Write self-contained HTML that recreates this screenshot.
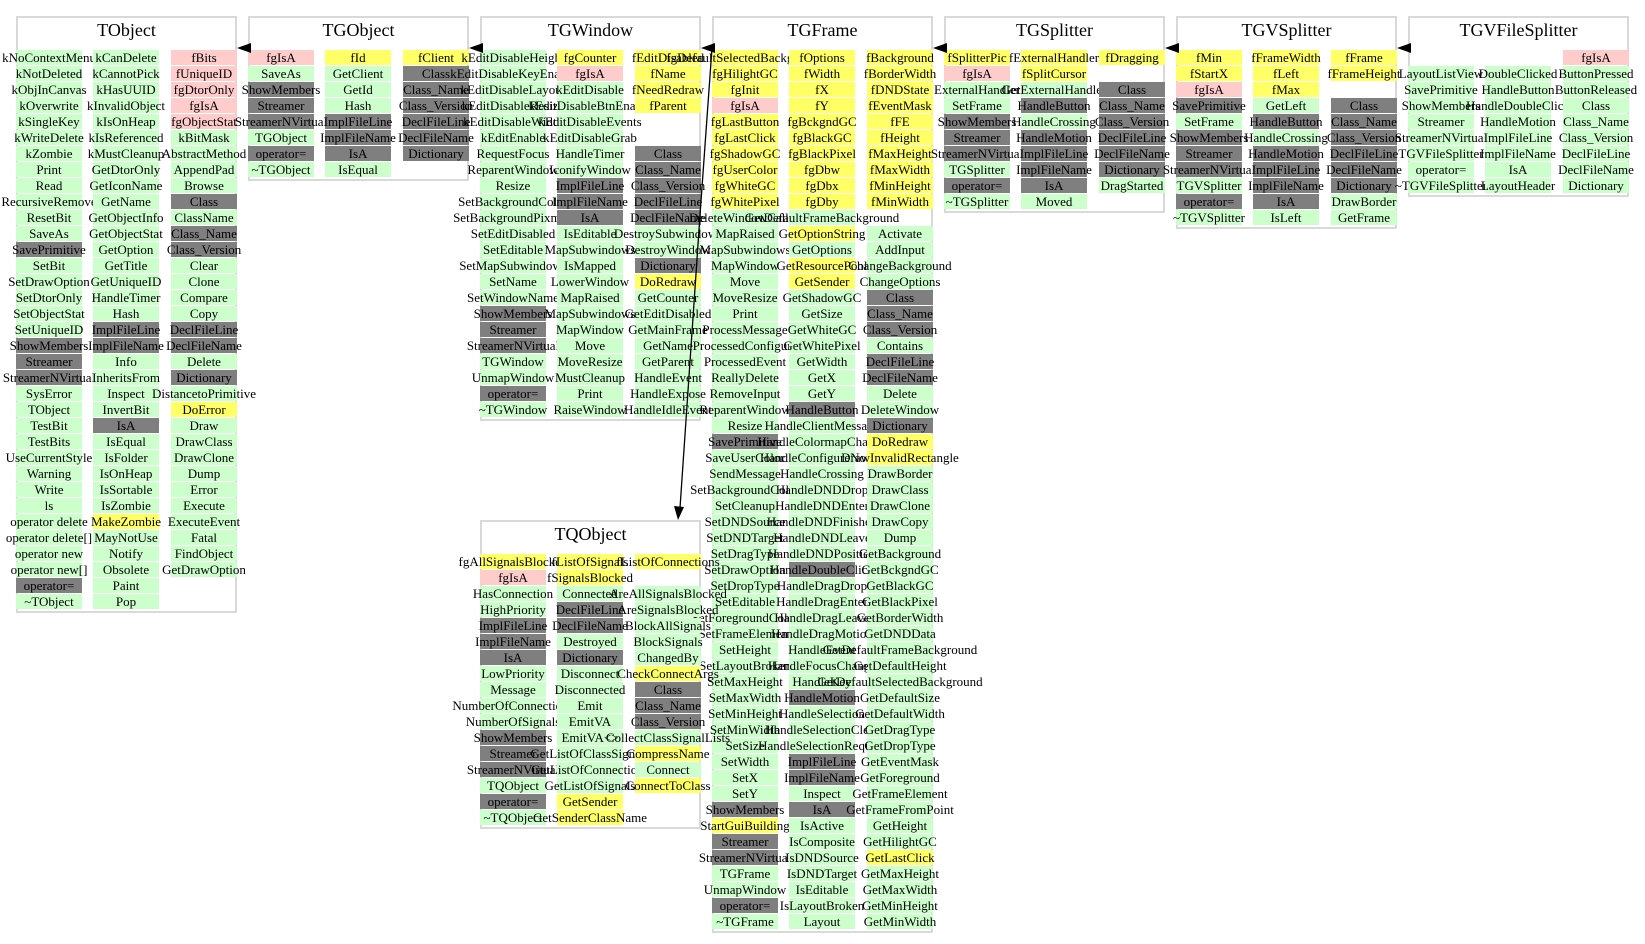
<!DOCTYPE html>
<html><head><meta charset="utf-8"><style>
html,body{margin:0;padding:0;background:#fff;width:1645px;height:944px;overflow:hidden;position:relative}
.box{position:absolute;border:2px solid #d9d9d9;box-sizing:border-box}
.t{position:absolute;font:18px "Liberation Serif",serif;text-align:center;width:221px;color:#000}
.c{position:absolute;width:66px;height:14.5px;line-height:14.5px;font:13px "Liberation Serif",serif;text-align:center;white-space:nowrap;display:flex;justify-content:center;color:#000}
.g{background:#ccffcc}.p{background:#ffcccc}.y{background:#ffff66}.d{background:#7f7f7f}.w{background:transparent}
svg{position:absolute;left:0;top:0}
</style></head><body>
<div id="root"></div>
<svg width="1645" height="944" id="sv"></svg>
<script>
function P(s){return s.split(',').map(function(x){x=x.trim();if(!x)return null;var m=x.match(/^(.*)\|([gpydw])$/);return m?[m[1],m[2]]:[x,'g'];});}
var boxes=[
{n:'TObject',x:16,y:16,cols:[
P('kNoContextMenu,kNotDeleted,kObjInCanvas,kOverwrite,kSingleKey,kWriteDelete,kZombie,Print,Read,RecursiveRemove,ResetBit,SaveAs,SavePrimitive|d,SetBit,SetDrawOption,SetDtorOnly,SetObjectStat,SetUniqueID,ShowMembers|d,Streamer|d,StreamerNVirtual|d,SysError,TObject,TestBit,TestBits,UseCurrentStyle,Warning,Write,ls,operator delete,operator delete[],operator new,operator new[],operator=|d,~TObject'),
P('kCanDelete,kCannotPick,kHasUUID,kInvalidObject,kIsOnHeap,kIsReferenced,kMustCleanup,GetDtorOnly,GetIconName,GetName,GetObjectInfo,GetObjectStat,GetOption,GetTitle,GetUniqueID,HandleTimer,Hash,ImplFileLine|d,ImplFileName|d,Info,InheritsFrom,Inspect,InvertBit,IsA|d,IsEqual,IsFolder,IsOnHeap,IsSortable,IsZombie,MakeZombie|y,MayNotUse,Notify,Obsolete,Paint,Pop'),
P('fBits|p,fUniqueID|p,fgDtorOnly|p,fgIsA|p,fgObjectStat|p,kBitMask,AbstractMethod,AppendPad,Browse,Class|d,ClassName,Class_Name|d,Class_Version|d,Clear,Clone,Compare,Copy,DeclFileLine|d,DeclFileName|d,Delete,Dictionary|d,DistancetoPrimitive,DoError|y,Draw,DrawClass,DrawClone,Dump,Error,Execute,ExecuteEvent,Fatal,FindObject,GetDrawOption')]},
{n:'TGObject',x:248,y:16,cols:[
P('fgIsA|p,SaveAs,ShowMembers|d,Streamer|d,StreamerNVirtual|d,TGObject,operator=|d,~TGObject'),
P('fId|y,GetClient,GetId,Hash,ImplFileLine|d,ImplFileName|d,IsA|d,IsEqual'),
P('fClient|y,Class|d,Class_Name|d,Class_Version|d,DeclFileLine|d,DeclFileName|d,Dictionary|d')]},
{n:'TGWindow',x:480,y:16,cols:[
P('kEditDisableHeight,kEditDisableKeyEnable,kEditDisableLayout,kEditDisableResize,kEditDisableWidth,kEditEnable,RequestFocus,ReparentWindow,Resize,SetBackgroundColor,SetBackgroundPixmap,SetEditDisabled,SetEditable,SetMapSubwindows,SetName,SetWindowName,ShowMembers|d,Streamer|d,StreamerNVirtual|d,TGWindow,UnmapWindow,operator=|d,~TGWindow'),
P('fgCounter|y,fgIsA|p,kEditDisable,kEditDisableBtnEnable,kEditDisableEvents,kEditDisableGrab,HandleTimer,IconifyWindow,ImplFileLine|d,ImplFileName|d,IsA|d,IsEditable,MapSubwindows,IsMapped,LowerWindow,MapRaised,MapSubwindows,MapWindow,Move,MoveResize,MustCleanup,Print,RaiseWindow'),
P('fEditDisabled|y,fName|y,fNeedRedraw|y,fParent|y,|w,|w,Class|d,Class_Name|d,Class_Version|d,DeclFileLine|d,DeclFileName|d,DestroySubwindows,DestroyWindow,Dictionary|d,DoRedraw|y,GetCounter,GetEditDisabled,GetMainFrame,GetName,GetParent,HandleEvent,HandleExpose,HandleIdleEvent')]},
{n:'TGFrame',x:712,y:16,cols:[
P('fgDefaultSelectedBackground|y,fgHilightGC|y,fgInit|y,fgIsA|p,fgLastButton|y,fgLastClick|y,fgShadowGC|y,fgUserColor|y,fgWhiteGC|y,fgWhitePixel|y,DeleteWindowCalled,MapRaised,MapSubwindows,MapWindow,Move,MoveResize,Print,ProcessMessage,ProcessedConfigure,ProcessedEvent,ReallyDelete,RemoveInput,ReparentWindow,Resize,SavePrimitive|d,SaveUserColor,SendMessage,SetBackgroundColor,SetCleanup,SetDNDSource,SetDNDTarget,SetDragType,SetDrawOption,SetDropType,SetEditable,SetForegroundColor,SetFrameElement,SetHeight,SetLayoutBroken,SetMaxHeight,SetMaxWidth,SetMinHeight,SetMinWidth,SetSize,SetWidth,SetX,SetY,ShowMembers|d,StartGuiBuilding|y,Streamer|d,StreamerNVirtual|d,TGFrame,UnmapWindow,operator=|d,~TGFrame'),
P('fOptions|y,fWidth|y,fX|y,fY|y,fgBckgndGC|y,fgBlackGC|y,fgBlackPixel|y,fgDbw|y,fgDbx|y,fgDby|y,GetDefaultFrameBackground,GetOptionString|y,GetOptions,GetResourcePool|y,GetSender|y,GetShadowGC,GetSize,GetWhiteGC,GetWhitePixel,GetWidth,GetX,GetY,HandleButton|d,HandleClientMessage,HandleColormapChange,HandleConfigureNotify,HandleCrossing,HandleDNDDrop,HandleDNDEnter,HandleDNDFinished,HandleDNDLeave,HandleDNDPosition,HandleDoubleClick|d,HandleDragDrop,HandleDragEnter,HandleDragLeave,HandleDragMotion,HandleEvent,HandleFocusChange,HandleKey,HandleMotion|d,HandleSelection,HandleSelectionClear,HandleSelectionRequest,ImplFileLine|d,ImplFileName|d,Inspect,IsA|d,IsActive,IsComposite,IsDNDSource,IsDNDTarget,IsEditable,IsLayoutBroken,Layout'),
P('fBackground|y,fBorderWidth|y,fDNDState|y,fEventMask|y,fFE|y,fHeight|y,fMaxHeight|y,fMaxWidth|y,fMinHeight|y,fMinWidth|y,|w,Activate,AddInput,ChangeBackground,ChangeOptions,Class|d,Class_Name|d,Class_Version|d,Contains,DeclFileLine|d,DeclFileName|d,Delete,DeleteWindow,Dictionary|d,DoRedraw|y,DrawInvalidRectangle|y,DrawBorder,DrawClass,DrawClone,DrawCopy,Dump,GetBackground,GetBckgndGC,GetBlackGC,GetBlackPixel,GetBorderWidth,GetDNDData,GetDefaultFrameBackground,GetDefaultHeight,GetDefaultSelectedBackground,GetDefaultSize,GetDefaultWidth,GetDragType,GetDropType,GetEventMask,GetForeground,GetFrameElement,GetFrameFromPoint,GetHeight,GetHilightGC,GetLastClick|y,GetMaxHeight,GetMaxWidth,GetMinHeight,GetMinWidth')]},
{n:'TGSplitter',x:944,y:16,cols:[
P('fSplitterPic|y,fgIsA|p,ExternalHandler,SetFrame,ShowMembers|d,Streamer|d,StreamerNVirtual|d,TGSplitter,operator=|d,~TGSplitter'),
P('fExternalHandler|y,fSplitCursor|y,GetExternalHandler,HandleButton|d,HandleCrossing,HandleMotion|d,ImplFileLine|d,ImplFileName|d,IsA|d,Moved'),
P('fDragging|y,|w,Class|d,Class_Name|d,Class_Version|d,DeclFileLine|d,DeclFileName|d,Dictionary|d,DragStarted')]},
{n:'TGVSplitter',x:1176,y:16,cols:[
P('fMin|y,fStartX|y,fgIsA|p,SavePrimitive|d,SetFrame,ShowMembers|d,Streamer|d,StreamerNVirtual|d,TGVSplitter,operator=|d,~TGVSplitter'),
P('fFrameWidth|y,fLeft|y,fMax|y,GetLeft,HandleButton|d,HandleCrossing,HandleMotion|d,ImplFileLine|d,ImplFileName|d,IsA|d,IsLeft'),
P('fFrame|y,fFrameHeight|y,|w,Class|d,Class_Name|d,Class_Version|d,DeclFileLine|d,DeclFileName|d,Dictionary|d,DrawBorder,GetFrame')]},
{n:'TGVFileSplitter',x:1408,y:16,cols:[
P('|w,LayoutListView,SavePrimitive,ShowMembers,Streamer,StreamerNVirtual,TGVFileSplitter,operator=,~TGVFileSplitter'),
P('|w,DoubleClicked,HandleButton,HandleDoubleClick,HandleMotion,ImplFileLine,ImplFileName,IsA,LayoutHeader'),
P('fgIsA|p,ButtonPressed,ButtonReleased,Class,Class_Name,Class_Version,DeclFileLine,DeclFileName,Dictionary')]},
{n:'TQObject',x:480,y:520,cols:[
P('fgAllSignalsBlocked|y,fgIsA|p,HasConnection,HighPriority,ImplFileLine|d,ImplFileName|d,IsA|d,LowPriority,Message,NumberOfConnections,NumberOfSignals,ShowMembers|d,Streamer|d,StreamerNVirtual|d,TQObject,operator=|d,~TQObject'),
P('fListOfSignals|y,fSignalsBlocked|y,Connected,DeclFileLine|d,DeclFileName|d,Destroyed,Dictionary|d,Disconnect,Disconnected,Emit,EmitVA,EmitVA<>,GetListOfClassSignals,GetListOfConnections,GetListOfSignals,GetSender|y,GetSenderClassName|y'),
P('fListOfConnections|y,|w,AreAllSignalsBlocked,AreSignalsBlocked,BlockAllSignals,BlockSignals,ChangedBy,CheckConnectArgs|y,Class|d,Class_Name|d,Class_Version|d,CollectClassSignalLists,CompressName|y,Connect,ConnectToClass|y')]}
];
var h='';
boxes.forEach(function(b){
  var n=Math.max(b.cols[0].length,b.cols[1].length,b.cols[2].length);
  h+='<div class="box" style="left:'+b.x+'px;top:'+b.y+'px;width:221px;height:'+(34+n*16+3)+'px"></div>';
  h+='<div class="t" style="left:'+b.x+'px;top:'+(b.y+4)+'px">'+b.n+'</div>';
});
boxes.forEach(function(b){
  var off=[0,77,155];
  b.cols.forEach(function(col,ci){col.forEach(function(c,ri){
    if(!c)return;
    var t=c[0].replace(/&/g,'&amp;').replace(/</g,'&lt;').replace(/>/g,'&gt;');
    h+='<div class="c '+c[1]+'" style="left:'+(b.x+off[ci])+'px;top:'+(b.y+34+ri*16)+'px"><span>'+t+'</span></div>';
  });});
});
document.getElementById('root').innerHTML=h;
var s='';
for(var i=1;i<7;i++){var tx=16+232*i-11,y=48;s+='<polygon points="'+tx+','+y+' '+(tx+14)+','+(y-5)+' '+(tx+14)+','+(y+5)+'" fill="#000"/>';}
s+='<path d="M712,48 C700,200 690,380 680,508" stroke="#000" stroke-width="1.3" fill="none"/>';
s+='<polygon points="678,520 674,506 684,507" fill="#000"/>';
document.getElementById('sv').innerHTML=s;
</script>
</body></html>
